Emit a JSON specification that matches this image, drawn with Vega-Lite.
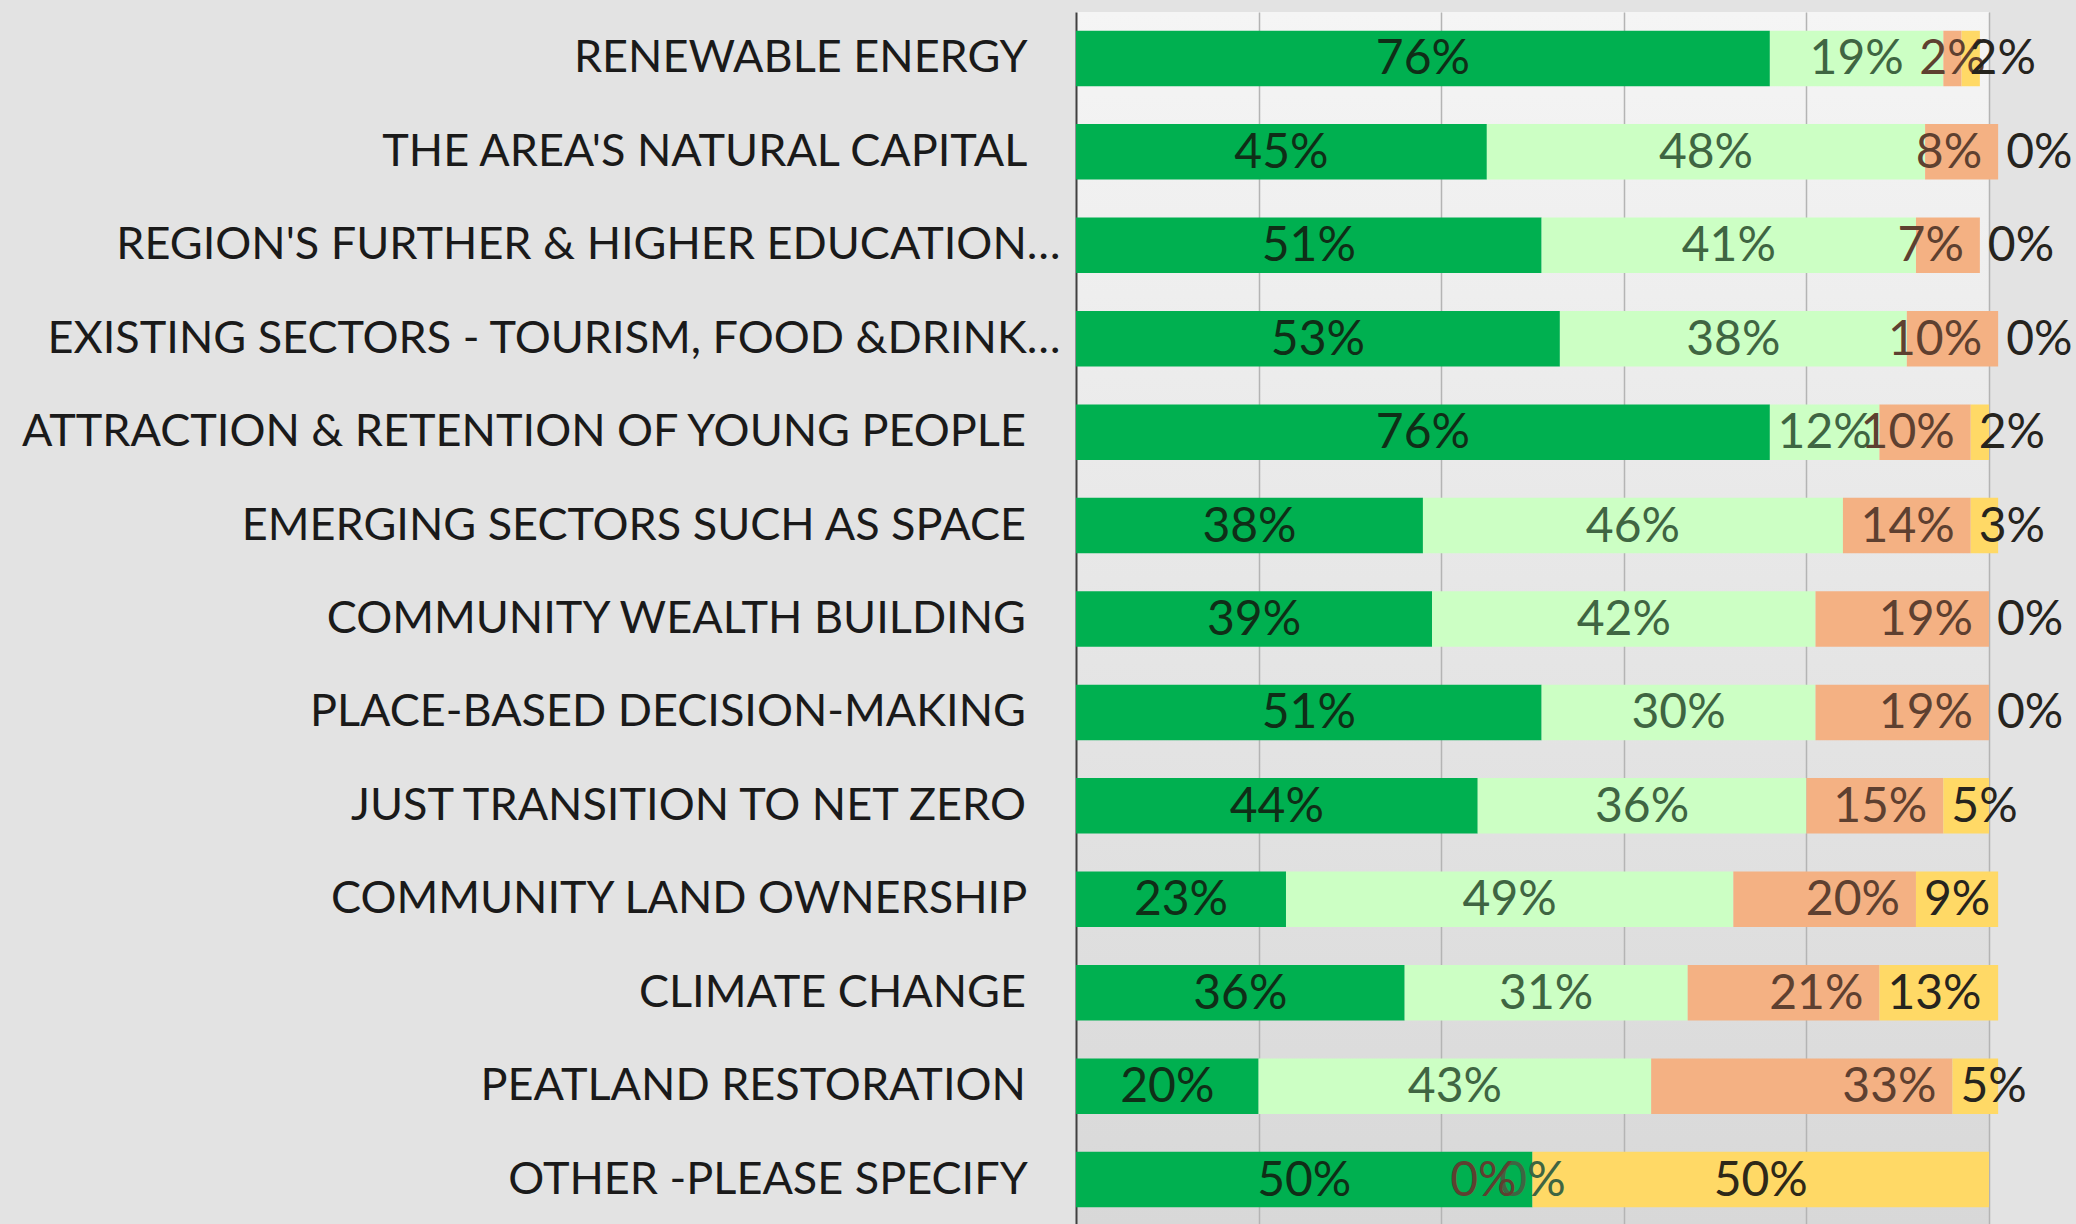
{
  "$schema": "https://vega.github.io/schema/vega-lite/v6.json",
  "autosize": {"type": "none"},
  "padding": {"left": 1076, "top": 12, "right": 87, "bottom": 0},
  "width": 913,
  "height": 1214,
  "background": "#e3e3e3",
  "config": {
    "view": {
      "stroke": null,
      "fill": {
        "gradient": "linear",
        "x1": 0, "y1": 0, "x2": 0, "y2": 1,
        "stops": [
          {"offset": 0, "color": "#f5f5f5"},
          {"offset": 0.5, "color": "#e6e6e6"},
          {"offset": 1, "color": "#d8d8d8"}
        ]
      }
    },
    "font": "Lato"
  },
  "data": {
    "values": [
      {"q": "RENEWABLE ENERGY", "r": "Very important", "k": 1, "v": 0.76},
      {"q": "RENEWABLE ENERGY", "r": "Important", "k": 2, "v": 0.19},
      {"q": "RENEWABLE ENERGY", "r": "Not very important", "k": 3, "v": 0.02},
      {"q": "RENEWABLE ENERGY", "r": "Not important", "k": 4, "v": 0.02},
      {"q": "THE AREA'S NATURAL CAPITAL", "r": "Very important", "k": 1, "v": 0.45},
      {"q": "THE AREA'S NATURAL CAPITAL", "r": "Important", "k": 2, "v": 0.48},
      {"q": "THE AREA'S NATURAL CAPITAL", "r": "Not very important", "k": 3, "v": 0.08},
      {"q": "THE AREA'S NATURAL CAPITAL", "r": "Not important", "k": 4, "v": 0.0},
      {"q": "REGION'S FURTHER & HIGHER EDUCATION…", "r": "Very important", "k": 1, "v": 0.51},
      {"q": "REGION'S FURTHER & HIGHER EDUCATION…", "r": "Important", "k": 2, "v": 0.41},
      {"q": "REGION'S FURTHER & HIGHER EDUCATION…", "r": "Not very important", "k": 3, "v": 0.07},
      {"q": "REGION'S FURTHER & HIGHER EDUCATION…", "r": "Not important", "k": 4, "v": 0.0},
      {"q": "EXISTING SECTORS - TOURISM, FOOD &DRINK…", "r": "Very important", "k": 1, "v": 0.53},
      {"q": "EXISTING SECTORS - TOURISM, FOOD &DRINK…", "r": "Important", "k": 2, "v": 0.38},
      {"q": "EXISTING SECTORS - TOURISM, FOOD &DRINK…", "r": "Not very important", "k": 3, "v": 0.10},
      {"q": "EXISTING SECTORS - TOURISM, FOOD &DRINK…", "r": "Not important", "k": 4, "v": 0.0},
      {"q": "ATTRACTION & RETENTION OF YOUNG PEOPLE", "r": "Very important", "k": 1, "v": 0.76},
      {"q": "ATTRACTION & RETENTION OF YOUNG PEOPLE", "r": "Important", "k": 2, "v": 0.12},
      {"q": "ATTRACTION & RETENTION OF YOUNG PEOPLE", "r": "Not very important", "k": 3, "v": 0.10},
      {"q": "ATTRACTION & RETENTION OF YOUNG PEOPLE", "r": "Not important", "k": 4, "v": 0.02},
      {"q": "EMERGING SECTORS SUCH AS SPACE", "r": "Very important", "k": 1, "v": 0.38},
      {"q": "EMERGING SECTORS SUCH AS SPACE", "r": "Important", "k": 2, "v": 0.46},
      {"q": "EMERGING SECTORS SUCH AS SPACE", "r": "Not very important", "k": 3, "v": 0.14},
      {"q": "EMERGING SECTORS SUCH AS SPACE", "r": "Not important", "k": 4, "v": 0.03},
      {"q": "COMMUNITY WEALTH BUILDING", "r": "Very important", "k": 1, "v": 0.39},
      {"q": "COMMUNITY WEALTH BUILDING", "r": "Important", "k": 2, "v": 0.42},
      {"q": "COMMUNITY WEALTH BUILDING", "r": "Not very important", "k": 3, "v": 0.19},
      {"q": "COMMUNITY WEALTH BUILDING", "r": "Not important", "k": 4, "v": 0.0},
      {"q": "PLACE-BASED DECISION-MAKING", "r": "Very important", "k": 1, "v": 0.51},
      {"q": "PLACE-BASED DECISION-MAKING", "r": "Important", "k": 2, "v": 0.30},
      {"q": "PLACE-BASED DECISION-MAKING", "r": "Not very important", "k": 3, "v": 0.19},
      {"q": "PLACE-BASED DECISION-MAKING", "r": "Not important", "k": 4, "v": 0.0},
      {"q": "JUST TRANSITION TO NET ZERO", "r": "Very important", "k": 1, "v": 0.44},
      {"q": "JUST TRANSITION TO NET ZERO", "r": "Important", "k": 2, "v": 0.36},
      {"q": "JUST TRANSITION TO NET ZERO", "r": "Not very important", "k": 3, "v": 0.15},
      {"q": "JUST TRANSITION TO NET ZERO", "r": "Not important", "k": 4, "v": 0.05},
      {"q": "COMMUNITY LAND OWNERSHIP", "r": "Very important", "k": 1, "v": 0.23},
      {"q": "COMMUNITY LAND OWNERSHIP", "r": "Important", "k": 2, "v": 0.49},
      {"q": "COMMUNITY LAND OWNERSHIP", "r": "Not very important", "k": 3, "v": 0.20},
      {"q": "COMMUNITY LAND OWNERSHIP", "r": "Not important", "k": 4, "v": 0.09},
      {"q": "CLIMATE CHANGE", "r": "Very important", "k": 1, "v": 0.36},
      {"q": "CLIMATE CHANGE", "r": "Important", "k": 2, "v": 0.31},
      {"q": "CLIMATE CHANGE", "r": "Not very important", "k": 3, "v": 0.21},
      {"q": "CLIMATE CHANGE", "r": "Not important", "k": 4, "v": 0.13},
      {"q": "PEATLAND RESTORATION", "r": "Very important", "k": 1, "v": 0.20},
      {"q": "PEATLAND RESTORATION", "r": "Important", "k": 2, "v": 0.43},
      {"q": "PEATLAND RESTORATION", "r": "Not very important", "k": 3, "v": 0.33},
      {"q": "PEATLAND RESTORATION", "r": "Not important", "k": 4, "v": 0.05},
      {"q": "OTHER -PLEASE SPECIFY", "r": "Very important", "k": 1, "v": 0.50},
      {"q": "OTHER -PLEASE SPECIFY", "r": "Important", "k": 2, "v": 0.0},
      {"q": "OTHER -PLEASE SPECIFY", "r": "Not very important", "k": 3, "v": 0.0},
      {"q": "OTHER -PLEASE SPECIFY", "r": "Not important", "k": 4, "v": 0.50}
    ]
  },
  "encoding": {
    "y": {
      "field": "q",
      "type": "nominal",
      "sort": null,
      "scale": {"paddingInner": 0.406, "paddingOuter": 0.2},
      "axis": {
        "title": null,
        "ticks": false,
        "domain": true,
        "domainColor": "#404040",
        "domainWidth": 2,
        "grid": false,
        "labelFont": "Lato",
        "labelFontSize": 45,
        "labelColor": "#1a1a1a",
        "labelPadding": 16,
        "labelLimit": 0,
        "labelExpr": "indexof(datum.label, '…') >= 0 ? datum.label : datum.label + '\u00a0\u00a0\u00a0\u200b'"
      }
    }
  },
  "layer": [
    {
      "mark": {"type": "bar"},
      "encoding": {
        "x": {
          "field": "v",
          "type": "quantitative",
          "stack": "zero",
          "scale": {"domain": [0, 1], "nice": false},
          "axis": {
            "title": null,
            "labels": false,
            "ticks": false,
            "domain": false,
            "grid": true,
            "gridColor": "#b4b4b4",
            "gridWidth": 1.5,
            "values": [0.2, 0.4, 0.6, 0.8, 1]
          }
        },
        "color": {
          "field": "r",
          "type": "nominal",
          "scale": {
            "domain": ["Very important", "Important", "Not very important", "Not important"],
            "range": ["#00b050", "#ccffc4", "#f4b183", "#ffd966"]
          },
          "legend": null
        },
        "order": {"field": "k", "type": "quantitative"}
      }
    },
    {
      "mark": {"type": "text", "fontSize": 48, "baseline": "middle", "align": "center", "dy": 2},
      "encoding": {
        "x": {"field": "v", "type": "quantitative", "stack": "zero", "bandPosition": 0.5},
        "detail": {"field": "r", "type": "nominal"},
        "order": {"field": "k", "type": "quantitative"},
        "text": {"field": "v", "type": "quantitative", "format": ".0%"},
        "opacity": {"condition": {"test": "datum.k <= 2 || (datum.k == 4 && datum.v >= 0.3) || (datum.k == 3 && datum.v > 0 && datum.v <= 0.03)", "value": 1}, "value": 0},
        "color": {
          "condition": [
            {"test": "datum.k == 1", "value": "#0f2e17"},
            {"test": "datum.k == 3", "value": "#5e4030"},
            {"test": "datum.k == 4", "value": "#2e2818"}
          ],
          "value": "#3f6542"
        }
      }
    },
    {
      "mark": {"type": "text", "fontSize": 48, "baseline": "middle", "align": "right", "dx": -16, "dy": 2},
      "encoding": {
        "x": {"field": "v", "type": "quantitative", "stack": "zero", "bandPosition": 1},
        "detail": {"field": "r", "type": "nominal"},
        "order": {"field": "k", "type": "quantitative"},
        "text": {"field": "v", "type": "quantitative", "format": ".0%"},
        "opacity": {"condition": {"test": "datum.k == 3 && !(datum.v > 0 && datum.v <= 0.03)", "value": 1}, "value": 0},
        "color": {"value": "#5e4030"}
      }
    },
    {
      "mark": {"type": "text", "fontSize": 48, "baseline": "middle", "align": "left", "dx": 8, "dy": 2},
      "encoding": {
        "x": {"field": "v", "type": "quantitative", "stack": "zero", "bandPosition": 0},
        "detail": {"field": "r", "type": "nominal"},
        "order": {"field": "k", "type": "quantitative"},
        "text": {"field": "v", "type": "quantitative", "format": ".0%"},
        "opacity": {"condition": {"test": "datum.k == 4 && datum.v < 0.3", "value": 1}, "value": 0},
        "color": {"value": "#26241e"}
      }
    }
  ]
}
